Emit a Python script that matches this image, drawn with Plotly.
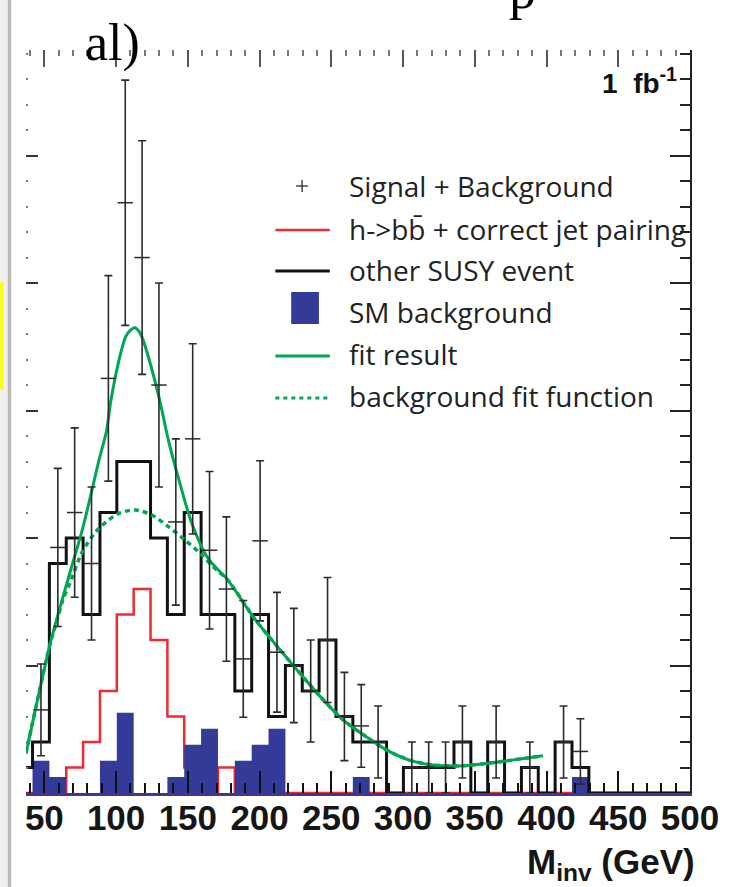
import plotly.graph_objects as go

# ---- histogram binning (GeV) ----
bin_lo = 30.0
bin_width = 11.75
n_bins = 40

# ---- per-bin contents ----
signal_plus_bkg = [1, 3.26, 9.63, 11, 9, 16.26, 23.15, 21, 16, 10.63,
                   13.89, 9.52, 8, 5.26, 9.89, 5.52, 5, 4, 6, 3,
                   2.63, 2, 0, 1, 1, 1, 2, 0, 2, 0,
                   1, 0, 2, 1.63, 0, 0, 0, 0, 0, 0]
signal_plus_bkg_err = [1.0, 1.8, 3.1, 3.32, 3.0, 4.03, 4.81, 4.58, 4.0, 3.26,
                       3.73, 3.09, 2.83, 2.29, 3.14, 2.35, 2.24, 2.0, 2.45, 1.73,
                       1.62, 1.41, 0, 1.0, 1.0, 1.0, 1.41, 0, 1.41, 0,
                       1.0, 0, 1.41, 1.28, 0, 0, 0, 0, 0, 0]
hbb_correct = [0, 0, 0, 1, 2, 4, 7, 8, 6, 3,
               1, 0, 1, 0, 1, 0, 0, 0, 0, 0,
               0, 0, 0, 0, 0, 0, 0, 0, 0, 0,
               0, 0, 0, 0, 0, 0, 0, 0, 0, 0]
other_susy = [1, 2, 9, 10, 7, 11, 13, 13, 10, 7,
              11, 7, 7, 4, 7, 3, 5, 4, 6, 3,
              2, 2, 0, 1, 1, 1, 2, 0, 2, 0,
              1, 0, 2, 1, 0, 0, 0, 0, 0, 0]
sm_background = [0, 1.26, 0.63, 0, 0, 1.26, 3.15, 0, 0, 0.63,
                 1.89, 2.52, 0, 1.26, 1.89, 2.52, 0, 0, 0, 0,
                 0.63, 0, 0, 0, 0, 0, 0, 0, 0, 0,
                 0, 0, 0, 0.63, 0, 0, 0, 0, 0, 0]

# ---- fitted curves ----
fit_m = [37.2, 45, 53.8, 60, 67.6, 76.8, 88.3, 93.3, 96.4, 102.1,
         106.7, 110, 113.1, 116, 118.6, 125, 130.8, 136.6, 145.7, 152.6,
         164.1, 177.9, 196.3, 212.4, 226.2, 242.3, 258.4, 274.5, 288.3, 304.4,
         320.5, 338.9, 355, 373.3, 397.5]
fit_val = [1.56, 3.6, 5.8, 7.1, 8.6, 10.4, 13.1, 14.2, 15.4, 17.0,
           17.9, 18.15, 18.25, 18.1, 17.8, 16.6, 15.3, 13.8, 11.9, 10.6,
           9.2, 8.35, 6.85, 5.74, 4.82, 3.78, 2.86, 2.2, 1.69, 1.29,
           1.1, 1.06, 1.14, 1.27, 1.46]
bkg_m = [37.2, 45, 53.8, 60, 63, 67.6, 76.8, 88.3, 102.1, 113.6,
         125, 136.6, 148, 159.5, 168, 177.9, 196.3, 212.4, 226.2, 242.3,
         258.4, 274.5, 288.3, 304.4, 320.5, 338.9, 355, 373.3, 397.5]
bkg_val = [1.56, 3.6, 5.8, 7.0, 7.6, 8.2, 9.5, 10.4, 10.97, 11.1,
           10.9, 10.44, 9.92, 9.35, 8.85, 8.35, 6.85, 5.74, 4.82, 3.78,
           2.86, 2.2, 1.69, 1.29, 1.1, 1.06, 1.14, 1.27, 1.46]

# ---- axes ----
x_range = [37.2, 500]
y_range = [0, 29.14]
x_major = [50, 100, 150, 200, 250, 300, 350, 400, 450, 500]

RED = "#ee2b2f"
BLUE = "#343a97"
GREEN = "#00a651"
INK = "#2b2b2b"

edges = [bin_lo + bin_width * i for i in range(n_bins + 1)]
centers = [bin_lo + bin_width * (i + 0.5) for i in range(n_bins)]


def step_xy(values):
    return edges, list(values) + [values[-1]]


# frame in pixels, used to place decorations in paper units
W, H = 731, 887
L, R, T, B = 26, 697, 50, 793


def px(x):
    return (x - L) / (R - L)


def py(y):
    return (B - y) / (B - T)


fig = go.Figure()

sx, sy = step_xy(hbb_correct)
fig.add_trace(go.Scatter(x=sx, y=sy, mode="lines", line=dict(color=RED, width=2.5, shape="hv"),
                         name="h->bb̄ + correct jet pairing", showlegend=False, hoverinfo="skip"))

# filled step histogram, kept in trace order so it covers the red outline
sx, sy = step_xy(sm_background)
fig.add_trace(go.Scatter(x=sx, y=sy, mode="lines", line=dict(color=BLUE, width=0, shape="hv"),
                         fill="tozeroy", fillcolor=BLUE,
                         name="SM background", showlegend=False, hoverinfo="skip"))

sx, sy = step_xy(other_susy)
fig.add_trace(go.Scatter(x=sx, y=sy, mode="lines", line=dict(color="#111111", width=3, shape="hv"),
                         name="other SUSY event", showlegend=False, hoverinfo="skip"))

fig.add_trace(go.Scatter(x=bkg_m, y=bkg_val, mode="lines",
                         line=dict(color=GREEN, width=3.5, shape="spline", smoothing=0.8, dash="5px,4px"),
                         name="background fit function", showlegend=False, hoverinfo="skip"))
fig.add_trace(go.Scatter(x=fit_m, y=fit_val, mode="lines",
                         line=dict(color=GREEN, width=3, shape="spline", smoothing=0.8),
                         name="fit result", showlegend=False, hoverinfo="skip"))

# data points with Poisson errors (empty bins are not drawn)
pts = [(c, v, e) for c, v, e in zip(centers, signal_plus_bkg, signal_plus_bkg_err) if v > 0]
fig.add_trace(go.Scatter(
    x=[p[0] for p in pts], y=[p[1] for p in pts], mode="markers",
    marker=dict(symbol="line-ew", size=11, line=dict(width=1.5, color=INK), color=INK),
    error_y=dict(type="data", array=[p[2] for p in pts], visible=True, color=INK, thickness=1.6, width=4),
    name="Signal + Background", showlegend=False, hoverinfo="skip"))

# empty trace so the mirrored top/right axes get drawn
fig.add_trace(go.Scatter(x=[], y=[], xaxis="x2", yaxis="y2", showlegend=False, hoverinfo="skip"))

fig.update_layout(
    width=W, height=H, autosize=False,
    margin=dict(l=L, r=W - R, t=T, b=H - B, pad=0),
    paper_bgcolor="white", plot_bgcolor="white",
    showlegend=False,
    xaxis=dict(range=x_range, tickmode="array", tickvals=x_major, ticktext=[str(v) for v in x_major],
               ticks="inside", ticklen=22, tickwidth=1.5, tickcolor="#111",
               minor=dict(dtick=10, tick0=0, ticks="inside", ticklen=10, tickwidth=1.5, tickcolor="#111"),
               showline=True, linecolor="#45348a", linewidth=3,
               showgrid=False, zeroline=False,
               tickfont=dict(family="Liberation Sans", size=35, weight="bold", color="#161616"),
               ticklabelstandoff=-8),
    yaxis=dict(range=y_range, tickmode="linear", tick0=0, dtick=5,
               ticks="inside", ticklen=12, tickwidth=2, tickcolor="#333",
               minor=dict(dtick=1, ticks="inside", ticklen=2, tickwidth=1.5, tickcolor="#777"),
               showline=False, showgrid=False, zeroline=False, showticklabels=False),
    xaxis2=dict(range=x_range, overlaying="x", side="top", anchor="y2",
                tickmode="linear", tick0=50, dtick=50, ticks="inside", ticklen=17, tickwidth=1.5,
                tickcolor="#555",
                minor=dict(dtick=10, ticks="inside", ticklen=6, tickwidth=1.5, tickcolor="#777"),
                showline=False, showgrid=False, zeroline=False, showticklabels=False),
    yaxis2=dict(range=y_range, overlaying="y", side="right", anchor="x2",
                tickmode="linear", tick0=0, dtick=5, ticks="inside", ticklen=20, tickwidth=1.5,
                tickcolor="#222",
                minor=dict(dtick=1, ticks="inside", ticklen=10, tickwidth=1.5, tickcolor="#222"),
                showline=True, linecolor="#222", linewidth=2,
                showgrid=False, zeroline=False, showticklabels=False),
)

shapes = []
annotations = []

# page edge on the left
shapes.append(dict(type="rect", xref="paper", yref="paper", x0=px(0), x1=px(7.5), y0=py(H), y1=py(0),
                   fillcolor="#f0f0f0", line=dict(width=0), layer="below"))
shapes.append(dict(type="rect", xref="paper", yref="paper", x0=px(7.5), x1=px(11), y0=py(H), y1=py(0),
                   fillcolor="#b9b9b9", line=dict(width=0), layer="below"))
shapes.append(dict(type="rect", xref="paper", yref="paper", x0=px(0), x1=px(3), y0=py(390), y1=py(282),
                   fillcolor="#ffff00", line=dict(width=0), layer="below"))

# legend
sym_x0, sym_x1, text_x = 278, 333, 352
rows = [186, 229, 270, 312, 354, 396]
labels = ["Signal + Background", "h->bb̄ + correct jet pairing", "other SUSY event",
          "SM background", "fit result", "background fit function"]

shapes.append(dict(type="line", xref="paper", yref="paper", x0=px(299), x1=px(311), y0=py(186), y1=py(186),
                   line=dict(color=INK, width=1.3)))
shapes.append(dict(type="line", xref="paper", yref="paper", x0=px(305), x1=px(305), y0=py(180), y1=py(192),
                   line=dict(color=INK, width=1.3)))
shapes.append(dict(type="line", xref="paper", yref="paper", x0=px(sym_x0), x1=px(sym_x1), y0=py(230), y1=py(230),
                   line=dict(color=RED, width=2.5)))
shapes.append(dict(type="line", xref="paper", yref="paper", x0=px(sym_x0), x1=px(sym_x1), y0=py(271), y1=py(271),
                   line=dict(color="#111", width=3)))
shapes.append(dict(type="rect", xref="paper", yref="paper", x0=px(294), x1=px(322), y0=py(324), y1=py(292),
                   fillcolor=BLUE, line=dict(width=0)))
shapes.append(dict(type="line", xref="paper", yref="paper", x0=px(sym_x0), x1=px(sym_x1), y0=py(356), y1=py(356),
                   line=dict(color=GREEN, width=3)))
shapes.append(dict(type="line", xref="paper", yref="paper", x0=px(sym_x0), x1=px(sym_x1), y0=py(398), y1=py(398),
                   line=dict(color=GREEN, width=3, dash="4px,4px")))

for yy, lab in zip(rows, labels):
    annotations.append(dict(xref="paper", yref="paper", x=px(text_x - 2), y=py(yy), xanchor="left",
                            yanchor="middle", text=lab, showarrow=False,
                            font=dict(family="Open Sans", size=28, color="#222")))

annotations.append(dict(xref="paper", yref="paper", x=px(686), y=py(81), xanchor="right", yanchor="middle",
                        text="1  fb<sup>-1</sup>", showarrow=False,
                        font=dict(family="Liberation Sans", size=28, weight="bold", color="#111")))
annotations.append(dict(xref="paper", yref="paper", x=px(84), y=py(43), xanchor="left", yanchor="middle",
                        text="al)", showarrow=False,
                        font=dict(family="Liberation Serif", size=52, color="#000")))
annotations.append(dict(xref="paper", yref="paper", x=px(704), y=py(864), xanchor="right", yanchor="middle",
                        text="M<sub>inv</sub> (GeV)", showarrow=False,
                        font=dict(family="Liberation Sans", size=35, weight="bold", color="#161616")))
# cropped caption line above the frame
annotations.append(dict(xref="paper", yref="paper", x=px(528), y=py(-10), xanchor="center", yanchor="middle",
                        text="p", showarrow=False,
                        font=dict(family="Liberation Serif", size=54, color="#000")))

fig.update_layout(shapes=shapes, annotations=annotations)

fig.write_html("out.html")
